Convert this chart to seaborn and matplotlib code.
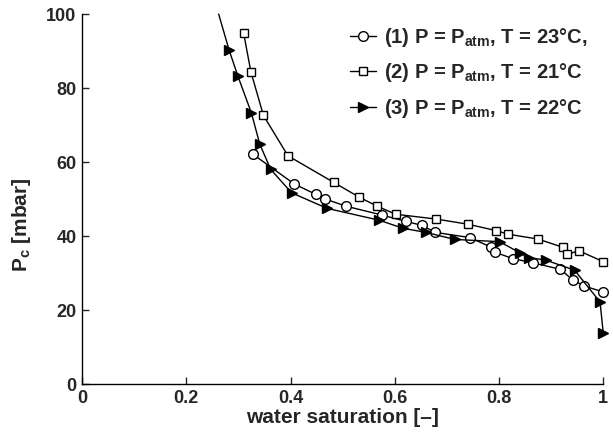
import numpy as np
import pandas as pd
import matplotlib
matplotlib.use("Agg")
import matplotlib.pyplot as plt
import seaborn as sns

# ============================================================
# DATEN
# ============================================================
sw_1 = [0.328, 0.407, 0.448, 0.467, 0.506, 0.575, 0.621, 0.652, 0.678, 0.744,
        0.785, 0.793, 0.827, 0.865, 0.918, 0.942, 0.964, 1.0]
pc_1 = [62.1, 54.1, 51.3, 50.0, 48.1, 45.7, 44.0, 42.9, 41.0, 39.6,
        37.0, 35.6, 33.9, 32.8, 31.0, 28.1, 26.5, 24.9]

sw_2 = [0.310, 0.324, 0.348, 0.395, 0.483, 0.532, 0.566, 0.602, 0.680, 0.741,
        0.794, 0.818, 0.875, 0.922, 0.930, 0.954, 1.0]
pc_2 = [94.8, 84.3, 72.6, 61.7, 54.5, 50.5, 48.1, 45.9, 44.6, 43.2,
        41.5, 40.5, 39.2, 37.0, 35.1, 36.0, 33.1]

# erster Punkt: Kurve läuft oben aus dem Bild (ohne Marker)
sw_3 = [0.262, 0.282, 0.299, 0.325, 0.341, 0.362, 0.402, 0.470, 0.570, 0.616,
        0.660, 0.715, 0.801, 0.840, 0.857, 0.890, 0.945, 0.994, 1.0]
pc_3 = [100.0, 90.3, 83.2, 73.2, 64.8, 58.0, 51.7, 47.5, 44.3, 42.1,
        41.0, 39.1, 38.5, 35.5, 34.2, 33.5, 30.8, 22.2, 13.9]

labels = [r"(1) P = P$_{\mathbf{atm}}$, T = 23°C,",
          r"(2) P = P$_{\mathbf{atm}}$, T = 21°C",
          r"(3) P = P$_{\mathbf{atm}}$, T = 22°C"]

x_ticks = [0, 0.2, 0.4, 0.6, 0.8, 1]
x_ticklabels = ["0", "0.2", "0.4", "0.6", "0.8", "1"]
y_ticks = [0, 20, 40, 60, 80, 100]

# ============================================================
# STIL
# ============================================================
sns.set_style("ticks")
plt.rcParams['font.family'] = ['Liberation Sans', 'DejaVu Sans']
plt.rcParams['font.weight'] = 'bold'
plt.rcParams['mathtext.fontset'] = 'custom'
plt.rcParams['mathtext.rm'] = 'Liberation Sans:bold'
plt.rcParams['mathtext.bf'] = 'Liberation Sans:bold'
plt.rcParams['mathtext.it'] = 'Liberation Sans:bold'

fig = plt.figure(figsize=(6.13, 4.4), dpi=100)
ax = fig.add_axes([0.134, 0.127, 0.850, 0.841])

series = [
    (sw_1, pc_1, "o", "white", 7.0, None),
    (sw_2, pc_2, "s", "white", 6.0, None),
    (sw_3, pc_3, ">", "black", 7.5, list(range(1, len(sw_3)))),
]
for (sw, pc, mk, fc, ms, every), lab in zip(series, labels):
    df = pd.DataFrame({"sw": sw, "pc": pc})
    sns.lineplot(data=df, x="sw", y="pc", ax=ax, sort=False, estimator=None,
                 color="black", linewidth=1.0, marker=mk, markersize=ms,
                 markerfacecolor=fc, markeredgecolor="black",
                 markeredgewidth=1.0, markevery=every, clip_on=False,
                 label=lab)

ax.set_xlim(0, 1)
ax.set_ylim(0, 100)
ax.set_xticks(x_ticks)
ax.set_xticklabels(x_ticklabels)
ax.set_yticks(y_ticks)
ax.tick_params(direction="in", length=5, width=1.0, labelsize=13, pad=4)
for lab in ax.get_xticklabels() + ax.get_yticklabels():
    lab.set_fontweight("bold")

sns.despine(ax=ax)
for sp in ["left", "bottom"]:
    ax.spines[sp].set_linewidth(1.0)
    ax.spines[sp].set_color("black")

ax.set_xlabel("water saturation [–]", fontsize=15, fontweight="bold", labelpad=1)
ax.set_ylabel(r"P$_{\mathbf{c}}$ [mbar]", fontsize=15, fontweight="bold")
ax.yaxis.set_label_coords(-0.095, 0.43)

leg = ax.legend(loc="upper right", frameon=False, fontsize=14.5,
                handlelength=1.3, handletextpad=0.4, labelspacing=0.62,
                borderaxespad=0.0, bbox_to_anchor=(0.985, 0.99))
for t in leg.get_texts():
    t.set_fontweight("bold")

fig.savefig("out.png", dpi=100)
